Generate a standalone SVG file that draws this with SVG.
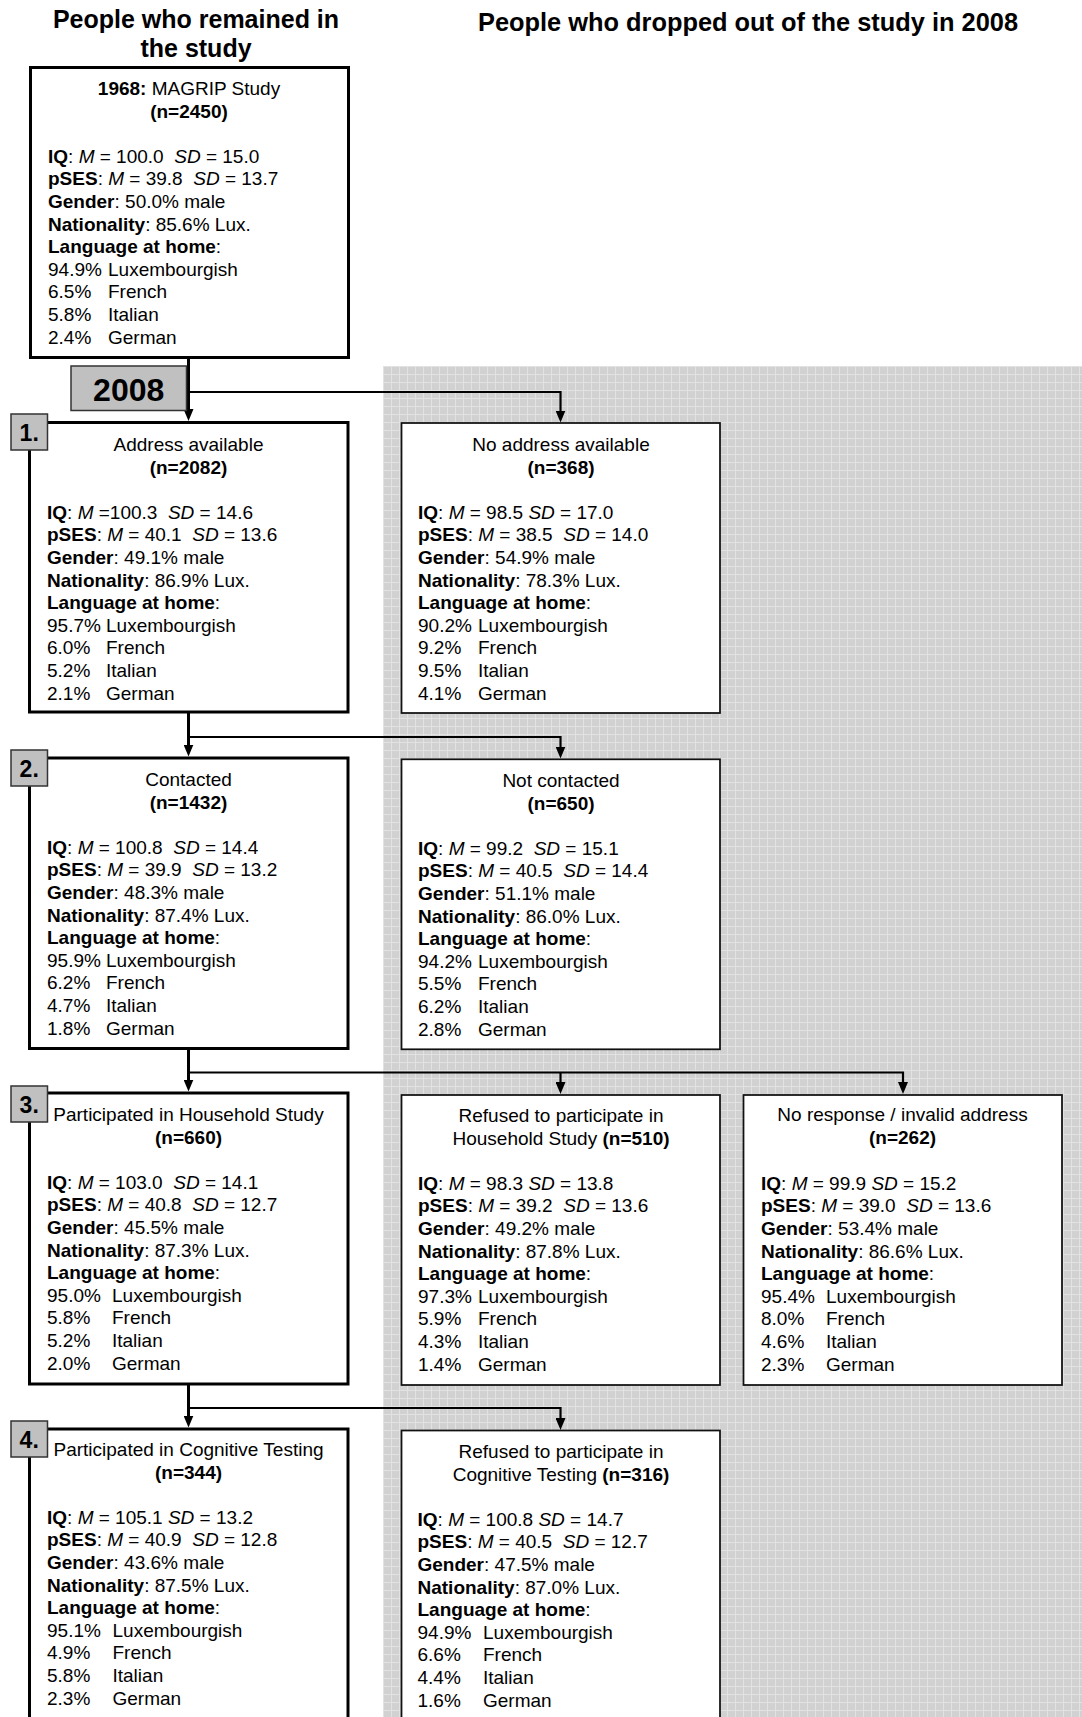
<svg xmlns="http://www.w3.org/2000/svg" width="1082" height="1717" viewBox="0 0 1082 1717">
<defs>
<style>
.t{font-family:"Liberation Sans",Arial,sans-serif;font-size:19px;fill:#000;white-space:pre}
.b{font-weight:bold}
.i{font-style:italic}
.c{text-anchor:middle}
.h{font-family:"Liberation Sans",Arial,sans-serif;font-weight:bold;fill:#000}
.mb{fill:#fff;stroke:#000;stroke-width:3}
.rb{fill:#fff;stroke:#111;stroke-width:1.75}
.lb{fill:#c0c0c0;stroke:#333;stroke-width:1.5}
.lt{font-family:"Liberation Sans",Arial,sans-serif;font-weight:bold;font-size:23px;text-anchor:middle;fill:#000}
.cn{fill:none;stroke:#000;stroke-width:2.2}
.tr{fill:none;stroke:#000;stroke-width:3}
</style>
<pattern id="grid" width="8" height="8" patternUnits="userSpaceOnUse" x="383" y="366">
<rect width="8" height="8" fill="#d1d1d1"/>
<path d="M0,0.5H8M0.5,0V8" stroke="#e2e2e2" stroke-width="1"/>
</pattern>
<marker id="arr" viewBox="0 0 12 10" refX="1" refY="5" markerWidth="12" markerHeight="10" markerUnits="userSpaceOnUse" orient="auto">
<path d="M0,0L12,5L0,10z" fill="#000"/>
</marker>
</defs>
<rect x="0" y="0" width="1082" height="1717" fill="#fff"/>
<rect id="dropout-area" x="383" y="366" width="699" height="1351" fill="url(#grid)"/>

<g id="titles">
<text class="h" x="196" y="28" font-size="25" text-anchor="middle">People who remained in</text>
<text class="h" x="196" y="57" font-size="25" text-anchor="middle">the study</text>
<text class="h" x="478" y="31" font-size="26" textLength="540" lengthAdjust="spacingAndGlyphs">People who dropped out of the study in 2008</text>
</g>

<g id="connectors">
<path class="tr" d="M188.5,359V410" marker-end="url(#arr)"/>
<path class="cn" d="M188.5,392H560.5V411.5" marker-end="url(#arr)"/>
<path class="tr" d="M188.5,711V745.5" marker-end="url(#arr)"/>
<path class="cn" d="M188.5,737H560.5V747.5" marker-end="url(#arr)"/>
<path class="tr" d="M188.5,1048.5V1080.5" marker-end="url(#arr)"/>
<path class="cn" d="M188.5,1072.5H903V1083" marker-end="url(#arr)"/>
<path class="cn" d="M560.5,1072.5V1083" marker-end="url(#arr)"/>
<path class="tr" d="M188.5,1384V1416.5" marker-end="url(#arr)"/>
<path class="cn" d="M188.5,1408H560.5V1419" marker-end="url(#arr)"/>
</g>

<g id="node-1968">
<rect class="mb" x="30.5" y="67.5" width="318" height="290"/>
<text class="t c" x="189" y="95"><tspan class="b">1968:</tspan> MAGRIP Study</text>
<text class="t c b" x="189" y="117.6">(n=2450)</text>
<text class="t" x="48" y="162.8"><tspan class="b">IQ</tspan>: <tspan class="i">M</tspan> = 100.0  <tspan class="i">SD</tspan> = 15.0</text>
<text class="t" x="48" y="185.4"><tspan class="b">pSES</tspan>: <tspan class="i">M</tspan> = 39.8  <tspan class="i">SD</tspan> = 13.7</text>
<text class="t" x="48" y="208"><tspan class="b">Gender</tspan>: 50.0% male</text>
<text class="t" x="48" y="230.6"><tspan class="b">Nationality</tspan>: 85.6% Lux.</text>
<text class="t" x="48" y="253.2"><tspan class="b">Language at home</tspan>:</text>
<text class="t" x="48" y="275.8">94.9%</text><text class="t" x="108" y="275.8">Luxembourgish</text>
<text class="t" x="48" y="298.4">6.5%</text><text class="t" x="108" y="298.4">French</text>
<text class="t" x="48" y="321">5.8%</text><text class="t" x="108" y="321">Italian</text>
<text class="t" x="48" y="343.6">2.4%</text><text class="t" x="108" y="343.6">German</text>
</g>

<g id="year-2008">
<rect class="lb" x="71" y="366" width="115.5" height="44.5"/>
<text class="h" x="128.7" y="401" font-size="32" text-anchor="middle">2008</text>
</g>

<g id="node-address">
<rect class="mb" x="29.5" y="422.5" width="318.5" height="289.5"/>
<text class="t c" x="188.5" y="451">Address available</text>
<text class="t c b" x="188.5" y="473.6">(n=2082)</text>
<text class="t" x="47" y="518.8"><tspan class="b">IQ</tspan>: <tspan class="i">M</tspan> =100.3  <tspan class="i">SD</tspan> = 14.6</text>
<text class="t" x="47" y="541.4"><tspan class="b">pSES</tspan>: <tspan class="i">M</tspan> = 40.1  <tspan class="i">SD</tspan> = 13.6</text>
<text class="t" x="47" y="564"><tspan class="b">Gender</tspan>: 49.1% male</text>
<text class="t" x="47" y="586.6"><tspan class="b">Nationality</tspan>: 86.9% Lux.</text>
<text class="t" x="47" y="609.2"><tspan class="b">Language at home</tspan>:</text>
<text class="t" x="47" y="631.8">95.7%</text><text class="t" x="106" y="631.8">Luxembourgish</text>
<text class="t" x="47" y="654.4">6.0%</text><text class="t" x="106" y="654.4">French</text>
<text class="t" x="47" y="677">5.2%</text><text class="t" x="106" y="677">Italian</text>
<text class="t" x="47" y="699.6">2.1%</text><text class="t" x="106" y="699.6">German</text>
<rect class="lb" x="11" y="414" width="36.5" height="36"/>
<text class="lt" x="29.2" y="441">1.</text>
</g>

<g id="node-no-address">
<rect class="rb" x="401.5" y="423" width="318.5" height="290"/>
<text class="t c" x="561" y="451">No address available</text>
<text class="t c b" x="561" y="473.6">(n=368)</text>
<text class="t" x="418" y="518.8"><tspan class="b">IQ</tspan>: <tspan class="i">M</tspan> = 98.5 <tspan class="i">SD</tspan> = 17.0</text>
<text class="t" x="418" y="541.4"><tspan class="b">pSES</tspan>: <tspan class="i">M</tspan> = 38.5  <tspan class="i">SD</tspan> = 14.0</text>
<text class="t" x="418" y="564"><tspan class="b">Gender</tspan>: 54.9% male</text>
<text class="t" x="418" y="586.6"><tspan class="b">Nationality</tspan>: 78.3% Lux.</text>
<text class="t" x="418" y="609.2"><tspan class="b">Language at home</tspan>:</text>
<text class="t" x="418" y="631.8">90.2%</text><text class="t" x="478" y="631.8">Luxembourgish</text>
<text class="t" x="418" y="654.4">9.2%</text><text class="t" x="478" y="654.4">French</text>
<text class="t" x="418" y="677">9.5%</text><text class="t" x="478" y="677">Italian</text>
<text class="t" x="418" y="699.6">4.1%</text><text class="t" x="478" y="699.6">German</text>
</g>

<g id="node-contacted">
<rect class="mb" x="29.5" y="758" width="318.5" height="290.5"/>
<text class="t c" x="188.5" y="786">Contacted</text>
<text class="t c b" x="188.5" y="808.6">(n=1432)</text>
<text class="t" x="47" y="853.8"><tspan class="b">IQ</tspan>: <tspan class="i">M</tspan> = 100.8  <tspan class="i">SD</tspan> = 14.4</text>
<text class="t" x="47" y="876.4"><tspan class="b">pSES</tspan>: <tspan class="i">M</tspan> = 39.9  <tspan class="i">SD</tspan> = 13.2</text>
<text class="t" x="47" y="899"><tspan class="b">Gender</tspan>: 48.3% male</text>
<text class="t" x="47" y="921.6"><tspan class="b">Nationality</tspan>: 87.4% Lux.</text>
<text class="t" x="47" y="944.2"><tspan class="b">Language at home</tspan>:</text>
<text class="t" x="47" y="966.8">95.9%</text><text class="t" x="106" y="966.8">Luxembourgish</text>
<text class="t" x="47" y="989.4">6.2%</text><text class="t" x="106" y="989.4">French</text>
<text class="t" x="47" y="1012">4.7%</text><text class="t" x="106" y="1012">Italian</text>
<text class="t" x="47" y="1034.6">1.8%</text><text class="t" x="106" y="1034.6">German</text>
<rect class="lb" x="11" y="750" width="36.5" height="36"/>
<text class="lt" x="29.2" y="777">2.</text>
</g>

<g id="node-not-contacted">
<rect class="rb" x="401.5" y="759.3" width="318.5" height="290"/>
<text class="t c" x="561" y="787">Not contacted</text>
<text class="t c b" x="561" y="809.6">(n=650)</text>
<text class="t" x="418" y="854.8"><tspan class="b">IQ</tspan>: <tspan class="i">M</tspan> = 99.2  <tspan class="i">SD</tspan> = 15.1</text>
<text class="t" x="418" y="877.4"><tspan class="b">pSES</tspan>: <tspan class="i">M</tspan> = 40.5  <tspan class="i">SD</tspan> = 14.4</text>
<text class="t" x="418" y="900"><tspan class="b">Gender</tspan>: 51.1% male</text>
<text class="t" x="418" y="922.6"><tspan class="b">Nationality</tspan>: 86.0% Lux.</text>
<text class="t" x="418" y="945.2"><tspan class="b">Language at home</tspan>:</text>
<text class="t" x="418" y="967.8">94.2%</text><text class="t" x="478" y="967.8">Luxembourgish</text>
<text class="t" x="418" y="990.4">5.5%</text><text class="t" x="478" y="990.4">French</text>
<text class="t" x="418" y="1013">6.2%</text><text class="t" x="478" y="1013">Italian</text>
<text class="t" x="418" y="1035.6">2.8%</text><text class="t" x="478" y="1035.6">German</text>
</g>

<g id="node-household">
<rect class="mb" x="29.5" y="1093" width="318.5" height="291"/>
<text class="t c" x="188.5" y="1121">Participated in Household Study</text>
<text class="t c b" x="188.5" y="1143.6">(n=660)</text>
<text class="t" x="47" y="1188.8"><tspan class="b">IQ</tspan>: <tspan class="i">M</tspan> = 103.0  <tspan class="i">SD</tspan> = 14.1</text>
<text class="t" x="47" y="1211.4"><tspan class="b">pSES</tspan>: <tspan class="i">M</tspan> = 40.8  <tspan class="i">SD</tspan> = 12.7</text>
<text class="t" x="47" y="1234"><tspan class="b">Gender</tspan>: 45.5% male</text>
<text class="t" x="47" y="1256.6"><tspan class="b">Nationality</tspan>: 87.3% Lux.</text>
<text class="t" x="47" y="1279.2"><tspan class="b">Language at home</tspan>:</text>
<text class="t" x="47" y="1301.8">95.0%</text><text class="t" x="112" y="1301.8">Luxembourgish</text>
<text class="t" x="47" y="1324.4">5.8%</text><text class="t" x="112" y="1324.4">French</text>
<text class="t" x="47" y="1347">5.2%</text><text class="t" x="112" y="1347">Italian</text>
<text class="t" x="47" y="1369.6">2.0%</text><text class="t" x="112" y="1369.6">German</text>
<rect class="lb" x="11" y="1086" width="36.5" height="36"/>
<text class="lt" x="29.2" y="1112.5">3.</text>
</g>

<g id="node-refused-household">
<rect class="rb" x="401.5" y="1095" width="318.5" height="290"/>
<text class="t c" x="561" y="1122">Refused to participate in</text>
<text class="t c" x="561" y="1144.6">Household Study <tspan class="b">(n=510)</tspan></text>
<text class="t" x="418" y="1189.8"><tspan class="b">IQ</tspan>: <tspan class="i">M</tspan> = 98.3 <tspan class="i">SD</tspan> = 13.8</text>
<text class="t" x="418" y="1212.4"><tspan class="b">pSES</tspan>: <tspan class="i">M</tspan> = 39.2  <tspan class="i">SD</tspan> = 13.6</text>
<text class="t" x="418" y="1235"><tspan class="b">Gender</tspan>: 49.2% male</text>
<text class="t" x="418" y="1257.6"><tspan class="b">Nationality</tspan>: 87.8% Lux.</text>
<text class="t" x="418" y="1280.2"><tspan class="b">Language at home</tspan>:</text>
<text class="t" x="418" y="1302.8">97.3%</text><text class="t" x="478" y="1302.8">Luxembourgish</text>
<text class="t" x="418" y="1325.4">5.9%</text><text class="t" x="478" y="1325.4">French</text>
<text class="t" x="418" y="1348">4.3%</text><text class="t" x="478" y="1348">Italian</text>
<text class="t" x="418" y="1370.6">1.4%</text><text class="t" x="478" y="1370.6">German</text>
</g>

<g id="node-no-response">
<rect class="rb" x="743.5" y="1095" width="318.5" height="290"/>
<text class="t c" x="902.5" y="1121">No response / invalid address</text>
<text class="t c b" x="902.5" y="1143.6">(n=262)</text>
<text class="t" x="761" y="1189.8"><tspan class="b">IQ</tspan>: <tspan class="i">M</tspan> = 99.9 <tspan class="i">SD</tspan> = 15.2</text>
<text class="t" x="761" y="1212.4"><tspan class="b">pSES</tspan>: <tspan class="i">M</tspan> = 39.0  <tspan class="i">SD</tspan> = 13.6</text>
<text class="t" x="761" y="1235"><tspan class="b">Gender</tspan>: 53.4% male</text>
<text class="t" x="761" y="1257.6"><tspan class="b">Nationality</tspan>: 86.6% Lux.</text>
<text class="t" x="761" y="1280.2"><tspan class="b">Language at home</tspan>:</text>
<text class="t" x="761" y="1302.8">95.4%</text><text class="t" x="826" y="1302.8">Luxembourgish</text>
<text class="t" x="761" y="1325.4">8.0%</text><text class="t" x="826" y="1325.4">French</text>
<text class="t" x="761" y="1348">4.6%</text><text class="t" x="826" y="1348">Italian</text>
<text class="t" x="761" y="1370.6">2.3%</text><text class="t" x="826" y="1370.6">German</text>
</g>

<g id="node-cognitive">
<rect class="mb" x="29.5" y="1429" width="318.5" height="320"/>
<text class="t c" x="188.5" y="1456">Participated in Cognitive Testing</text>
<text class="t c b" x="188.5" y="1478.6">(n=344)</text>
<text class="t" x="47" y="1523.8"><tspan class="b">IQ</tspan>: <tspan class="i">M</tspan> = 105.1 <tspan class="i">SD</tspan> = 13.2</text>
<text class="t" x="47" y="1546.4"><tspan class="b">pSES</tspan>: <tspan class="i">M</tspan> = 40.9  <tspan class="i">SD</tspan> = 12.8</text>
<text class="t" x="47" y="1569"><tspan class="b">Gender</tspan>: 43.6% male</text>
<text class="t" x="47" y="1591.6"><tspan class="b">Nationality</tspan>: 87.5% Lux.</text>
<text class="t" x="47" y="1614.2"><tspan class="b">Language at home</tspan>:</text>
<text class="t" x="47" y="1636.8">95.1%</text><text class="t" x="112.5" y="1636.8">Luxembourgish</text>
<text class="t" x="47" y="1659.4">4.9%</text><text class="t" x="112.5" y="1659.4">French</text>
<text class="t" x="47" y="1682">5.8%</text><text class="t" x="112.5" y="1682">Italian</text>
<text class="t" x="47" y="1704.6">2.3%</text><text class="t" x="112.5" y="1704.6">German</text>
<rect class="lb" x="11" y="1421" width="36.5" height="36"/>
<text class="lt" x="29.2" y="1447.5">4.</text>
</g>

<g id="node-refused-cognitive">
<rect class="rb" x="401.5" y="1430.5" width="318.5" height="320"/>
<text class="t c" x="561" y="1458">Refused to participate in</text>
<text class="t c" x="561" y="1480.6">Cognitive Testing <tspan class="b">(n=316)</tspan></text>
<text class="t" x="417.5" y="1525.8"><tspan class="b">IQ</tspan>: <tspan class="i">M</tspan> = 100.8 <tspan class="i">SD</tspan> = 14.7</text>
<text class="t" x="417.5" y="1548.4"><tspan class="b">pSES</tspan>: <tspan class="i">M</tspan> = 40.5  <tspan class="i">SD</tspan> = 12.7</text>
<text class="t" x="417.5" y="1571"><tspan class="b">Gender</tspan>: 47.5% male</text>
<text class="t" x="417.5" y="1593.6"><tspan class="b">Nationality</tspan>: 87.0% Lux.</text>
<text class="t" x="417.5" y="1616.2"><tspan class="b">Language at home</tspan>:</text>
<text class="t" x="417.5" y="1638.8">94.9%</text><text class="t" x="483" y="1638.8">Luxembourgish</text>
<text class="t" x="417.5" y="1661.4">6.6%</text><text class="t" x="483" y="1661.4">French</text>
<text class="t" x="417.5" y="1684">4.4%</text><text class="t" x="483" y="1684">Italian</text>
<text class="t" x="417.5" y="1706.6">1.6%</text><text class="t" x="483" y="1706.6">German</text>
</g>
</svg>
